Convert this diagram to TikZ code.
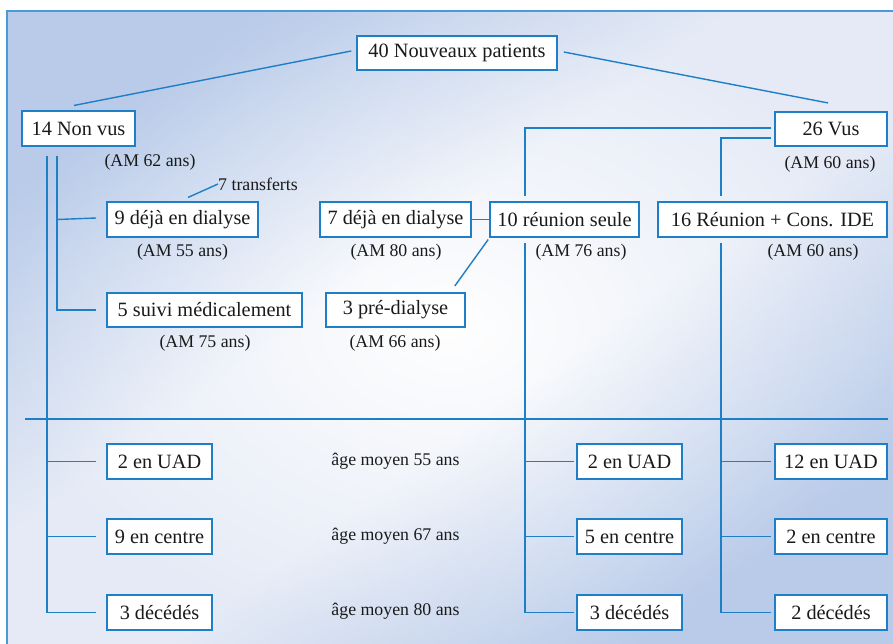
\documentclass[tikz,border=0pt]{standalone}
\usepackage{fontspec}
\setmainfont{Liberation Serif}
\usetikzlibrary{calc}
\definecolor{lb}{HTML}{1E7FC6}
\definecolor{framec}{HTML}{4A9AD8}
\definecolor{bgd}{HTML}{A6BFE4}
\definecolor{radc}{HTML}{CCD7EE}
\definecolor{txt}{HTML}{1A1A1A}
\pgfdeclareverticalshading{bgshade}{100bp}{color(0bp)=(bgd); color(25bp)=(bgd); color(44bp)=(white); color(56bp)=(white); color(75bp)=(bgd); color(100bp)=(bgd)}
\begin{document}
\begin{tikzpicture}[x=1pt,y=-1pt,
  box/.style={draw=lb, line width=1.6pt, fill=white, minimum height=34.5pt, inner sep=2pt,
    text=txt, font=\fontsize{20.3}{24}\selectfont},
  lab/.style={text=txt, inner sep=0pt, font=\fontsize{17.8}{21}\selectfont},
  conn/.style={draw=lb, line width=1.4pt},
  framel/.style={draw=framec, line width=2pt}]
\useasboundingbox (0,0) rectangle (893,644);
\fill[white] (0,0) rectangle (893,644);
\begin{scope}[x=1pt,y=1pt]
\shade[shading=bgshade, shading angle=36] (7,-11) rectangle (893,-644);
\shade[inner color=white, outer color=radc, opacity=0.5] (7,-11) rectangle (893,-644);
\end{scope}
\draw[framel] (7,644) -- (7,11) -- (893,11);

% boxes
\node[box, minimum width=200pt] (top) at (457,53) {40 Nouveaux patients};
\node[box, minimum width=113pt] (nonvus) at (78.5,128.5) {14 Non vus};
\node[box, minimum width=112pt] (vus) at (831,129) {26 Vus};
\node[box, minimum width=151pt] (deja9) at (182.5,219.5) {9 déjà en dialyse};
\node[box, minimum width=195pt] (suivi) at (204.5,310) {5 suivi médicalement};
\node[box, minimum width=151pt] (deja7) at (395.5,219.5) {7 déjà en dialyse};
\node[box, minimum width=139pt] (pre) at (395.5,310) {3 pré-dialyse};
\node[box, minimum width=149pt] (reunion) at (564.5,219.5) {10 réunion seule};
\node[box, minimum width=229pt] (ide) at (772.5,219.5) {16 Réunion + Cons. IDE};

\node[box, minimum width=105pt] (l1) at (159.5,461.5) {2 en UAD};
\node[box, minimum width=105pt] (l2) at (159.5,536.5) {9 en centre};
\node[box, minimum width=105pt] (l3) at (159.5,612.5) {3 décédés};
\node[box, minimum width=105pt] (m1) at (629.5,461.5) {2 en UAD};
\node[box, minimum width=105pt] (m2) at (629.5,536.5) {5 en centre};
\node[box, minimum width=105pt] (m3) at (629.5,612.5) {3 décédés};
\node[box, minimum width=112pt] (r1) at (831,461.5) {12 en UAD};
\node[box, minimum width=112pt] (r2) at (831,536.5) {2 en centre};
\node[box, minimum width=112pt] (r3) at (831,612.5) {2 décédés};

% labels
\node[lab] (a62) at (150,162) {(AM 62 ans)};
\node[lab] (a60v) at (830,164) {(AM 60 ans)};
\node[lab] (a55) at (182.5,252) {(AM 55 ans)};
\node[lab] (a80) at (396,252) {(AM 80 ans)};
\node[lab] (a76) at (581,252) {(AM 76 ans)};
\node[lab] (a60) at (813,252) {(AM 60 ans)};
\node[lab] (a75) at (205,343) {(AM 75 ans)};
\node[lab] (a66) at (395,343) {(AM 66 ans)};
\node[lab] (g55) at (395.5,461) {âge moyen 55 ans};
\node[lab] (g67) at (395.5,536) {âge moyen 67 ans};
\node[lab] (g80) at (395.5,611) {âge moyen 80 ans};
\node[lab, anchor=west] (tr) at (218,184) {7 transferts};

% trunk coordinates
\coordinate (L1) at (47,0);
\coordinate (L2) at (57,0);
\coordinate (A1) at (525,0);
\coordinate (B1) at (721,0);
\coordinate (d1) at (25,419);
\coordinate (d2) at (888,419);

% connectors
\draw[conn] ($(top.west)+(-5,-2)$) -- ($(nonvus.north)+(-4.5,-5)$);
\draw[conn] ($(top.east)+(6,-1)$) -- ($(vus.north)+(-3,-8)$);

\draw[conn] ($(nonvus.south -| L1)+(0,9)$) |- ($(l3.west)+(-10,0)$);
\draw[conn] (l1.west -| L1) -- ($(l1.west)+(-10,0)$);
\draw[conn] (l2.west -| L1) -- ($(l2.west)+(-10,0)$);
\draw[conn] ($(nonvus.south -| L2)+(0,9)$) |- ($(suivi.west)+(-10,0)$);
\draw[conn] (deja9.west -| L2) -- ($(deja9.west)+(-10,-1.5)$);

\draw[conn] ($(deja9.north)+(5.5,-4)$) -- (tr.west);
\draw[conn] (deja7.east) -- (reunion.west);
\draw[conn] ($(reunion.south west)+(-1,2)$) -- ($(pre.north east)+(-11,-6)$);

\draw[conn] ($(vus.west)+(-3,-1)$) -| ($(reunion.north -| A1)+(0,-5)$);
\draw[conn] ($(vus.west)+(-3,9)$) -| ($(ide.north -| B1)+(0,-5)$);

\draw[conn] ($(reunion.south -| A1)+(0,5)$) |- ($(m3.west)+(-2,0)$);
\draw[conn] (m1.west -| A1) -- ($(m1.west)+(-2,0)$);
\draw[conn] (m2.west -| A1) -- ($(m2.west)+(-2,0)$);
\draw[conn] ($(ide.south -| B1)+(0,5)$) |- ($(r3.west)+(-3,0)$);
\draw[conn] (r1.west -| B1) -- ($(r1.west)+(-3,0)$);
\draw[conn] (r2.west -| B1) -- ($(r2.west)+(-3,0)$);

\draw[conn] (d1) -- (d2);
\end{tikzpicture}
\end{document}
